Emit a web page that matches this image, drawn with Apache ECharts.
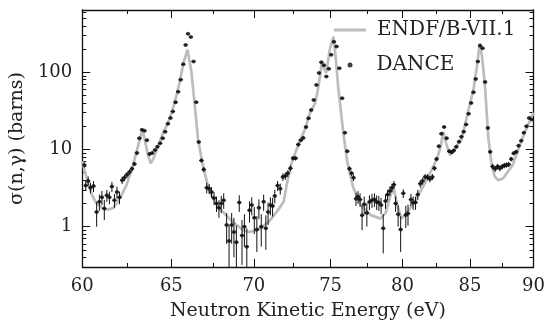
<!DOCTYPE html>
<html><head><meta charset="utf-8">
<script src="https://cdn.jsdelivr.net/npm/echarts@6/dist/echarts.min.js"></script>
<style>html,body{margin:0;padding:0;background:#fff}#c{width:548px;height:326px}</style>
</head><body><div id="c"></div>
<script>
// ENDF/B-VII.1 evaluated curve
const endfE = [60.0,60.16,60.32,60.52,60.74,61.06,61.38,61.7,61.92,62.2,62.43,62.75,63.0,63.2,63.32,63.45,63.62,63.8,63.95,64.12,64.5,64.8,65.07,65.3,65.47,65.7,65.95,66.18,66.38,66.57,66.86,67.26,67.87,68.7,69.32,69.7,70.3,70.94,71.5,71.9,72.1,72.37,72.7,73.04,73.32,73.57,73.97,74.15,74.3,74.39,74.5,74.7,74.95,75.19,75.35,75.52,75.85,76.13,76.52,77.08,77.76,78.44,78.8,79.1,79.35,79.6,79.93,80.3,80.87,81.82,82.54,82.8,82.99,83.2,83.5,83.9,84.38,84.8,85.29,85.55,85.75,85.95,86.17,86.42,86.68,86.9,87.18,87.56,88.33,89.1,89.9,90.0];
const endfSigma = [7.0,5.0,3.6,2.6,2.05,1.75,1.65,1.75,2.05,2.7,3.45,5.7,9.3,13.9,17.9,13.9,9.0,6.6,7.5,9.5,16,22,32.5,50,72,130,195,102,37.7,13.9,6.3,2.82,1.72,1.15,0.9,0.85,0.92,1.15,1.6,2.1,3.5,6.3,9.5,13.9,18.8,28,40,60,92,131,120,98,200,290,150,62,17,6.9,3.28,1.9,1.41,1.27,1.5,2.4,3.28,2.0,1.27,1.5,2.09,4.2,7.7,11,17,12,8.4,10.5,13.9,27.9,62,123,238,150,62,13.9,6.3,4.5,4.0,4.2,6.3,13.9,27.9,30];

// DANCE measurement
const danceE = [60.11,60.19,60.32,60.45,60.61,60.78,60.93,61.07,61.20,61.34,61.48,61.62,61.76,61.90,62.04,62.19,62.32,62.46,62.60,62.74,62.88,63.02,63.16,63.31,63.45,63.59,63.74,63.89,64.05,64.19,64.35,64.50,64.64,64.80,64.95,65.09,65.25,65.40,65.55,65.70,65.84,65.98,66.15,66.31,66.47,66.62,66.78,66.92,67.10,67.25,67.39,67.54,67.69,67.84,67.98,68.13,68.31,68.46,68.62,68.76,68.91,69.09,69.26,69.41,69.56,69.73,69.87,70.03,70.19,70.32,70.47,70.62,70.76,70.90,71.05,71.19,71.33,71.51,71.68,71.85,72.01,72.17,72.34,72.51,72.68,72.85,73.02,73.18,73.36,73.53,73.70,73.87,74.05,74.22,74.38,74.55,74.71,74.88,75.04,75.22,75.40,75.59,75.78,75.97,76.13,76.28,76.43,76.56,76.73,76.87,77.01,77.15,77.30,77.48,77.66,77.84,78.01,78.17,78.32,78.48,78.63,78.79,78.94,79.10,79.25,79.39,79.51,79.69,79.87,80.06,80.24,80.40,80.61,80.77,80.94,81.11,81.29,81.46,81.64,81.82,82.00,82.18,82.33,82.49,82.66,82.85,83.05,83.24,83.44,83.62,83.78,83.97,84.17,84.35,84.53,84.71,84.90,85.09,85.27,85.44,85.61,85.78,85.97,86.17,86.38,86.56,86.75,86.95,87.14,87.32,87.50,87.67,87.84,88.01,88.21,88.41,88.61,88.80,89.01,89.22,89.43,89.64,89.85];
const danceSigma = [6.3,3.4,3.9,3.2,3.35,1.55,2.1,2.4,1.72,2.55,
2.4,3.3,2.2,2.8,2.4,4.0,4.3,4.7,5.1,5.6,
6.5,9.0,14,18,17.4,13.2,8.7,9.0,9.8,10.8,
12,14,17,21.5,25.5,31,41,56,80,127,
226,314,285,138,41,12.5,7.2,5.5,3.2,3.1,
2.8,2.35,2.0,1.75,2.0,2.2,1.05,0.65,1.05,0.85,
0.63,2.05,0.77,1.0,0.55,1.63,1.9,1.3,0.92,1.75,
1.0,2.1,0.95,1.55,1.9,1.85,2.5,3.4,3.1,4.4,
4.55,4.9,5.7,7.7,7.7,11.6,13.2,14.1,19.5,25.4,
32.5,43.8,68.5,97.6,135,123,88,111,168,248,
215,113,46,16.5,9.5,5.6,4.9,4.3,2.3,2.43,
2.25,1.4,1.95,1.5,2.09,2.2,2.25,2.09,2.05,1.9,
0.95,2.15,2.6,2.9,3.2,3.5,2.0,1.45,0.92,2.7,
1.41,1.48,2.25,2.05,2.05,2.6,3.6,3.9,4.4,4.4,
4.15,4.4,5.7,7.5,11,16,19.5,14,9.5,9.2,
9.7,10.8,12.6,14.6,17,21,29,40,55,82,
138,220,205,75,19,9.3,6.0,5.6,6.0,5.7,
6.0,6.2,6.3,6.4,7.5,8.9,9.3,11.2,13,16.5,
20,25.5,24.5];
const danceErr = [0.5,0.5,0.55,0.5,0.55,0.55,0.5,0.5,0.5,0.45,
0.45,0.5,0.45,0.5,0.45,0.45,0.4,0.4,0.4,0.4,
0.4,0.4,0.5,0.5,0.5,0.5,0.4,0.4,0.4,0.4,
0.4,0.4,0.5,0.5,0.5,0.6,0.8,1,1.5,2,
3,4,4,2,0.8,0.4,0.4,0.4,0.5,0.45,
0.45,0.45,0.45,0.45,0.5,0.5,0.45,0.4,0.45,0.45,
0.4,0.5,0.45,0.45,0.4,0.5,0.5,0.5,0.45,0.5,
0.45,0.5,0.45,0.5,0.5,0.5,0.5,0.5,0.5,0.5,
0.5,0.5,0.5,0.5,0.5,0.6,0.6,0.6,0.7,0.8,
1,1.2,1.5,2,2.5,2.5,2,2,3,4,
4,2,1,0.5,0.4,0.4,0.4,0.4,0.45,0.45,
0.45,0.5,0.5,0.5,0.45,0.45,0.45,0.45,0.45,0.45,
0.5,0.45,0.4,0.4,0.4,0.4,0.45,0.45,0.45,0.35,
0.45,0.45,0.4,0.4,0.4,0.4,0.4,0.4,0.4,0.4,
0.4,0.4,0.4,0.45,0.5,0.6,0.7,0.6,0.5,0.5,
0.5,0.5,0.5,0.6,0.6,0.7,0.8,1,1.2,1.5,
2,3,3,1.5,0.6,0.5,0.5,0.5,0.5,0.5,
0.5,0.5,0.5,0.5,0.5,0.5,0.5,0.5,0.5,0.6,
0.7,0.8,0.8];

const xMajorTicks = [60,65,70,75,80,85,90];
const xMinorTicks = [62.5,67.5,72.5,77.5,82.5,87.5];
const yMajorTicks = [1,10,100];
const yMinorTicks = [0.3,0.4,0.5,0.6,0.7,0.8,0.9,2,3,4,5,6,7,8,9,20,30,40,50,60,70,80,90,200,300,400,500,600];
const X_MIN = 60, X_MAX = 90, Y_MIN = 0.3, Y_MAX = 640;

const FONT = 'DejaVu Serif';
const INK = '#111';
const GRAY = '#bdbdbd';

function axisDef(kind, position, ticks, len, extra) {
  const base = {
    type: 'log', logBase: 10, gridIndex: 0, position: position,
    min: kind === 'x' ? X_MIN : Y_MIN, max: kind === 'x' ? X_MAX : Y_MAX,
    axisLine: {show: false},
    axisTick: {show: true, inside: true, length: len, customValues: ticks, lineStyle: {color: INK, width: 1}},
    axisLabel: {show: false},
    splitLine: {show: false},
    minorTick: {show: false}
  };
  return Object.assign(base, extra || {});
}
const lineOn = {show: true, lineStyle: {color: INK, width: 1.3}};

const chart = echarts.init(document.getElementById('c'), null, {renderer: 'canvas'});
const n = Math.min(danceE.length, danceSigma.length, danceErr.length);
const pts = [], bars = [];
for (let i = 0; i < n; i++) {
  pts.push([danceE[i], danceSigma[i]]);
  bars.push([danceE[i], danceSigma[i], Math.max(danceSigma[i] - danceErr[i], Y_MIN), Math.min(danceSigma[i] + danceErr[i], Y_MAX)]);
}
const endf = endfE.map((e, i) => [e, endfSigma[i]]);

chart.setOption({
  animation: false,
  backgroundColor: '#fff',
  grid: {left: 74, right: 10, top: 10, bottom: 59, containLabel: false},
  xAxis: [
    axisDef('x', 'bottom', xMajorTicks, 8, {
      axisLine: lineOn,
      axisLabel: {show: true, customValues: xMajorTicks, margin: 10, fontFamily: FONT, fontSize: 18, color: '#222'},
      name: 'Neutron Kinetic Energy (eV)', nameLocation: 'middle', nameGap: 35,
      nameTextStyle: {fontFamily: FONT, fontSize: 19, color: '#222'}
    }),
    axisDef('x', 'bottom', xMinorTicks, 4),
    axisDef('x', 'top', xMajorTicks, 8, {axisLine: lineOn}),
    axisDef('x', 'top', xMinorTicks, 4)
  ],
  yAxis: [
    axisDef('y', 'left', yMajorTicks, 8, {
      axisLine: lineOn,
      axisLabel: {show: true, customValues: yMajorTicks, margin: 10, fontFamily: FONT, fontSize: 18, color: '#222'},
      name: 'σ(n,γ) (barns)', nameLocation: 'middle', nameGap: 47, nameRotate: 90,
      nameTextStyle: {fontFamily: FONT, fontSize: 19, color: '#222'}
    }),
    axisDef('y', 'left', yMinorTicks, 4),
    axisDef('y', 'right', yMajorTicks, 8, {axisLine: lineOn}),
    axisDef('y', 'right', yMinorTicks, 4)
  ],
  legend: [
    {data: [{name: 'ENDF/B-VII.1', icon: 'rect', itemStyle: {color: GRAY}}], left: 334, top: 20, padding: 0,
     itemWidth: 32, itemHeight: 3,
     textStyle: {fontFamily: FONT, fontSize: 20, color: '#222', padding: [0, 0, 0, 6]}},
    {data: [{name: 'DANCE', icon: 'circle', itemStyle: {color: INK}}], left: 347.5, top: 55, padding: 0,
     itemWidth: 5, itemHeight: 5,
     textStyle: {fontFamily: FONT, fontSize: 20, color: '#222', padding: [0, 0, 0, 19]}}
  ],
  series: [
    {name: 'ENDF/B-VII.1', type: 'line', xAxisIndex: 0, yAxisIndex: 0, data: endf,
     symbol: 'none', showSymbol: false, smooth: false,
     lineStyle: {color: GRAY, width: 2.7}, itemStyle: {color: GRAY}, z: 2},
    {name: 'DANCE errors', type: 'custom', xAxisIndex: 0, yAxisIndex: 0, data: bars, silent: true, z: 3,
     encode: {x: 0, y: 1},
     renderItem: function (params, api) {
       const x = api.value(0);
       const p = api.coord([x, api.value(1)]);
       const lo = api.coord([x, api.value(2)]);
       const hi = api.coord([x, api.value(3)]);
       return {type: 'group', children: [
         {type: 'line', shape: {x1: lo[0], y1: lo[1], x2: hi[0], y2: hi[1]}, style: {stroke: INK, lineWidth: 1}},
         {type: 'line', shape: {x1: p[0] - 2.2, y1: p[1], x2: p[0] + 2.2, y2: p[1]}, style: {stroke: INK, lineWidth: 1}}
       ]};
     }},
    {name: 'DANCE', type: 'scatter', xAxisIndex: 0, yAxisIndex: 0, data: pts,
     symbol: 'circle', symbolSize: 4, itemStyle: {color: INK}, z: 4}
  ]
});
</script></body></html>
